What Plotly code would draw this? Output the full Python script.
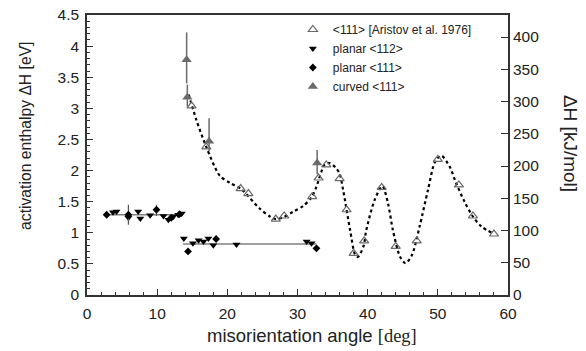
import plotly.graph_objects as go

EV_TO_KJMOL = 96.485

# <111> tilt boundaries, Aristov et al. 1976
aristov_angle = [14.9, 17.0, 21.9, 23.0, 26.9, 28.1, 32.1, 33.0, 34.1, 36.0,
                 37.0, 38.0, 39.5, 42.0, 44.0, 47.0, 50.0, 53.0, 55.0, 58.0]
aristov_dh = [3.04, 2.38, 1.71, 1.63, 1.22, 1.27, 1.58, 1.88, 2.09, 1.87,
              1.37, 0.67, 0.87, 1.73, 0.78, 0.87, 2.18, 1.77, 1.27, 0.98]

# smooth guide through the Aristov data
guide_angle = [14.5, 15.6, 17.0, 18.9, 20.4, 22.0, 24.6, 26.1, 26.9, 28.0, 29.4,
               30.8, 32.0, 32.7, 33.9, 34.6, 35.4, 36.0, 36.5, 37.5, 38.2, 38.6,
               39.4, 39.8, 41.0, 42.1, 42.9, 43.6, 44.6, 45.4, 46.3, 47.4, 48.6,
               49.6, 50.5, 51.7, 52.6, 53.8, 55.0, 56.2, 57.9]
guide_dh = [3.22, 2.81, 2.38, 1.92, 1.80, 1.70, 1.39, 1.26, 1.22, 1.25, 1.34,
            1.43, 1.57, 1.74, 2.10, 2.12, 2.05, 1.95, 1.69, 1.04, 0.65, 0.61,
            0.78, 1.04, 1.53, 1.75, 1.47, 1.04, 0.62, 0.51, 0.64, 1.10, 1.69,
            2.14, 2.24, 2.06, 1.80, 1.50, 1.26, 1.10, 0.99]

# planar <112>
p112_angle = [3.7, 4.2, 5.9, 7.3, 7.6, 9.0, 10.9, 11.6, 12.3, 13.0, 13.5,
              13.8, 15.1, 15.9, 16.6, 17.3, 18.0, 21.3, 31.3, 32.0]
p112_dh = [1.33, 1.34, 1.24, 1.34, 1.23, 1.28, 1.27, 1.21, 1.26, 1.29, 1.31,
           0.91, 0.83, 0.88, 0.86, 0.91, 0.80, 0.81, 0.86, 0.83]

# planar <111>
p111_angle = [2.8, 5.9, 9.9, 12.0, 13.2, 14.4, 18.4, 32.7]
p111_dh = [1.29, 1.29, 1.37, 1.24, 1.30, 0.70, 0.90, 0.75]
p111_err_up = [0, 0.16, 0.08, 0, 0, 0, 0, 0]
p111_err_down = [0, 0.16, 0.10, 0, 0, 0, 0, 0]

# mean levels of the planar boundaries
mean_low_angle = [2.8, 13.5]
mean_low_dh = [1.29, 1.29]
mean_high_angle = [13.7, 32.7]
mean_high_dh = [0.82, 0.82]

# curved <111>
curved_angle = [14.2, 14.3, 17.4, 32.8]
curved_dh = [3.78, 3.18, 2.47, 2.12]
curved_err_up = [0.44, 0.20, 0.37, 0.21]
curved_err_down = [0.38, 0.15, 0.16, 0.18]

FONT = "Liberation Sans, Arial, sans-serif"
GRAY = "#6a6a6a"

fig = go.Figure()

fig.add_trace(go.Scatter(x=mean_low_angle, y=mean_low_dh, mode="lines",
                         line=dict(color="#808080", width=1.6), showlegend=False,
                         hoverinfo="skip"))
fig.add_trace(go.Scatter(x=mean_high_angle, y=mean_high_dh, mode="lines",
                         line=dict(color="#808080", width=1.6), showlegend=False,
                         hoverinfo="skip"))
fig.add_trace(go.Scatter(x=guide_angle, y=guide_dh, mode="lines",
                         line=dict(color="black", width=2.2, dash="dot", shape="spline",
                                   smoothing=0.8),
                         showlegend=False, hoverinfo="skip"))

fig.add_trace(go.Scatter(
    x=aristov_angle, y=aristov_dh, mode="markers",
    name="<111> [Aristov et al. 1976]",
    marker=dict(symbol="triangle-up-open", size=8, color=GRAY, line=dict(width=1.2))))
fig.add_trace(go.Scatter(
    x=p112_angle, y=p112_dh, mode="markers", name="planar <112>",
    marker=dict(symbol="triangle-down", size=7, color="black")))
fig.add_trace(go.Scatter(
    x=p111_angle, y=p111_dh, mode="markers", name="planar <111>",
    marker=dict(symbol="diamond", size=6, color="black"),
    error_y=dict(type="data", symmetric=False, array=p111_err_up,
                 arrayminus=p111_err_down, color="#555", thickness=1.2, width=0)))
fig.add_trace(go.Scatter(
    x=curved_angle, y=curved_dh, mode="markers", name="curved <111>",
    marker=dict(symbol="triangle-up", size=9, color=GRAY),
    error_y=dict(type="data", symmetric=False, array=curved_err_up,
                 arrayminus=curved_err_down, color=GRAY, thickness=1.5, width=0)))

# secondary scale in kJ/mol, tied to the eV scale
fig.add_trace(go.Scatter(x=[None], y=[None], yaxis="y2", showlegend=False,
                         hoverinfo="skip"))

fig.update_layout(
    width=586, height=351,
    margin=dict(l=87, r=78, t=15, b=56, autoexpand=False),
    paper_bgcolor="white", plot_bgcolor="white",
    font=dict(family=FONT, color="#222", size=15),
    xaxis=dict(range=[0, 60], tick0=0, dtick=10, ticks="inside", ticklen=6,
               tickwidth=1, tickcolor="#333", showline=True, linecolor="#333",
               linewidth=1.6, mirror=True, showgrid=False, zeroline=False,
               automargin=False,
               tickfont=dict(size=15.5), ticklabelstandoff=4,
               minor=dict(dtick=2, ticks="inside", ticklen=3, tickcolor="#333")),
    yaxis=dict(range=[0, 4.5], tick0=0, dtick=0.5, ticks="inside", ticklen=6,
               tickwidth=1, tickcolor="#333", showline=True, linecolor="#333",
               linewidth=1.6, showgrid=False, zeroline=False, automargin=False,
               tickfont=dict(size=15.5), ticklabelstandoff=3,
               minor=dict(dtick=0.1, ticks="inside", ticklen=3, tickcolor="#333")),
    yaxis2=dict(range=[0, 4.5 * EV_TO_KJMOL], overlaying="y", side="right",
                tick0=0, dtick=50, ticks="inside", ticklen=7, tickwidth=1,
                tickcolor="#333", showline=True, linecolor="#333", linewidth=1.6,
                showgrid=False, zeroline=False, automargin=False,
                tickfont=dict(size=15.5)),
    legend=dict(x=0.489, y=1.0, xanchor="left", yanchor="top",
                bgcolor="rgba(0,0,0,0)", font=dict(size=12), tracegroupgap=0),
    annotations=[
        dict(text='misorientation angle <span style="font-family:Liberation Serif, serif">[deg]</span>',
             xref="paper", yref="paper", x=0.534, y=-0.145,
             xanchor="center", yanchor="middle", showarrow=False,
             font=dict(size=18.5)),
        dict(text="activation enthalpy ΔH [eV]", xref="paper", yref="paper",
             x=-0.145, y=0.568, xanchor="center", yanchor="middle",
             textangle=-90, showarrow=False, font=dict(size=15.7)),
        dict(text="ΔH [kJ/mol]", xref="paper", yref="paper",
             x=1.147, y=0.54, xanchor="center", yanchor="middle",
             textangle=90, showarrow=False, font=dict(size=19)),
    ],
)

fig.write_html("out.html")
